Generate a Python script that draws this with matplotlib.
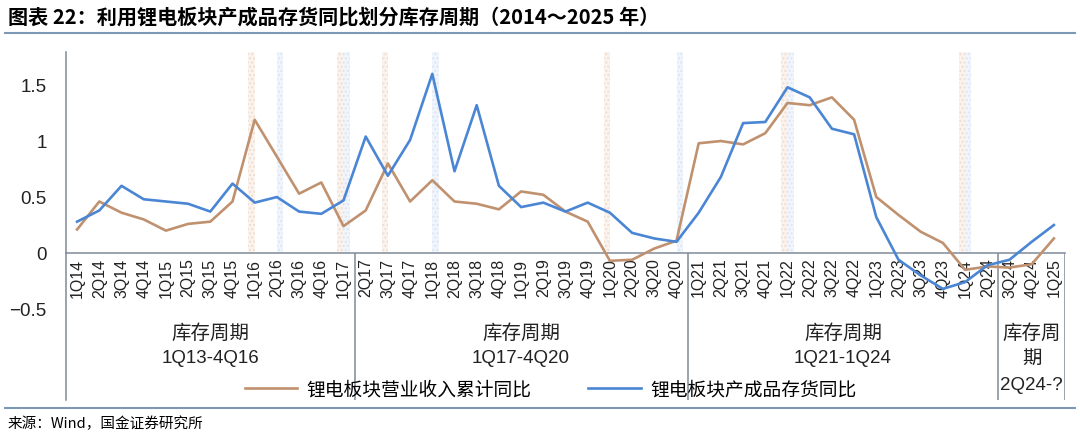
import matplotlib.pyplot as plt
from matplotlib.lines import Line2D

plt.rcParams['font.family'] = ['Liberation Sans', 'Noto Sans CJK SC', 'DejaVu Sans']

quarters = ['1Q14', '2Q14', '3Q14', '4Q14', '1Q15', '2Q15', '3Q15', '4Q15',
            '1Q16', '2Q16', '3Q16', '4Q16', '1Q17', '2Q17', '3Q17', '4Q17',
            '1Q18', '2Q18', '3Q18', '4Q18', '1Q19', '2Q19', '3Q19', '4Q19',
            '1Q20', '2Q20', '3Q20', '4Q20', '1Q21', '2Q21', '3Q21', '4Q21',
            '1Q22', '2Q22', '3Q22', '4Q22', '1Q23', '2Q23', '3Q23', '4Q23',
            '1Q24', '2Q24', '3Q24', '4Q24', '1Q25']

# 锂电板块营业收入累计同比
revenue = [0.21, 0.46, 0.36, 0.30, 0.20, 0.26, 0.28, 0.46,
           1.19, 0.86, 0.53, 0.63, 0.24, 0.38, 0.80, 0.46,
           0.65, 0.46, 0.44, 0.39, 0.55, 0.52, 0.37, 0.28,
           -0.07, -0.06, 0.04, 0.11, 0.98, 1.00, 0.97, 1.07,
           1.34, 1.32, 1.39, 1.19, 0.50, 0.34, 0.19, 0.09,
           -0.15, -0.12, -0.13, -0.10, 0.13]

# 锂电板块产成品存货同比
inventory = [0.28, 0.38, 0.60, 0.48, 0.46, 0.44, 0.37, 0.62,
             0.45, 0.50, 0.37, 0.35, 0.47, 1.04, 0.69, 1.01,
             1.60, 0.73, 1.32, 0.60, 0.41, 0.45, 0.37, 0.45,
             0.36, 0.18, 0.13, 0.10, 0.36, 0.68, 1.16, 1.17,
             1.48, 1.39, 1.11, 1.06, 0.32, -0.06, -0.20, -0.32,
             -0.26, -0.11, -0.06, 0.10, 0.25]

# highlighted quarters (revenue turns / inventory turns)
rev_marks = [8, 12, 14, 24, 32, 40]
inv_marks = [9, 12, 16, 27, 32, 40]

# inventory cycle groups: (start, end, label lines)
groups = [(-0.5, 12.5, ['库存周期', '1Q13-4Q16']),
          (12.5, 27.5, ['库存周期', '1Q17-4Q20']),
          (27.5, 41.5, ['库存周期', '1Q21-1Q24']),
          (41.5, 44.5, ['库存周', '期', '2Q24-?'])]

brown = '#C0916F'
blue = '#4A86D4'
frame = '#7F8A99'
cjk = ['Noto Sans CJK SC', 'DejaVu Sans']

fig = plt.figure(figsize=(10.8, 4.33), dpi=100)
ax = fig.add_axes([66 / 1080, 1 - 400 / 433, 999 / 1080, 348 / 433])

x = list(range(len(quarters)))
ymin, ymax = -1.3125, 1.795

# faint dotted bands marking the turning quarters
for i in rev_marks:
    ax.axvspan(i - 0.28, i, ymin=(0 - ymin) / (ymax - ymin), ymax=1,
               facecolor='#FBF3EE', edgecolor='#F1DDD0', hatch='....', lw=0, zorder=0)
for i in inv_marks:
    ax.axvspan(i, i + 0.28, ymin=(0 - ymin) / (ymax - ymin), ymax=1,
               facecolor='#F1F5FC', edgecolor='#DCE6F6', hatch='....', lw=0, zorder=0)

ax.plot(x, revenue, color=brown, lw=1.9, zorder=3)
ax.plot(x, inventory, color=blue, lw=1.9, zorder=4)

ax.set_xlim(-0.5, 44.5)
ax.set_ylim(ymin, ymax)

ax.spines['top'].set_visible(False)
ax.spines['right'].set_visible(False)
ax.spines['bottom'].set_position(('data', 0))
ax.spines['bottom'].set_color(frame)
ax.spines['left'].set_color(frame)
ax.spines['left'].set_linewidth(1.1)
ax.spines['bottom'].set_linewidth(1.1)

ax.set_yticks([-0.5, 0, 0.5, 1, 1.5])
ax.set_yticklabels(['\u22120.5', '0', '0.5', '1', '1.5'])
ax.tick_params(axis='y', length=0, pad=14, labelsize=13.5, labelcolor='#222222')
ax.set_xticks(x)
ax.set_xticklabels(quarters, rotation=90)
ax.tick_params(axis='x', length=0, pad=4, labelsize=11.5, labelcolor='#222222')

# category group boxes
for start, end, lines in groups:
    ax.vlines(end, ymin, 0, color=frame, lw=1.1, zorder=2)
    ys = [-0.714, -0.9375, -1.18]
    for k, txt in enumerate(lines):
        fam = cjk if any(ord(c) > 127 for c in txt) else ['Liberation Sans']
        ax.text((start + end) / 2, ys[k], txt, ha='center', va='center',
                fontsize=14 if fam == cjk else 13.5, family=fam, color='#222222')

handles = [Line2D([], [], color=brown, lw=1.9),
           Line2D([], [], color=blue, lw=1.9)]
ax.legend(handles, ['锂电板块营业收入累计同比', '锂电板块产成品存货同比'],
          loc='center', bbox_to_anchor=(0.485, 0.03), ncol=2, frameon=False,
          prop={'family': cjk, 'size': 13.5}, handlelength=2.8,
          columnspacing=3.0, handletextpad=0.5)

# title, rules and source
fig.text(8 / 1080, 1 - 17 / 433,
         '图表 22：利用锂电板块产成品存货同比划分库存周期（2014～2025 年）',
         family=cjk, fontsize=14.5, fontweight='bold', va='center')
fig.add_artist(Line2D([5 / 1080, 1075 / 1080], [1 - 33 / 433, 1 - 33 / 433],
                      color='#7C98B4', lw=1.5))
fig.add_artist(Line2D([5 / 1080, 1075 / 1080], [1 - 408 / 433, 1 - 408 / 433],
                      color='#7C98B4', lw=1.5))
fig.text(8 / 1080, 1 - 424 / 433, '来源：Wind，国金证券研究所',
         family=cjk, fontsize=10.5, va='center')

fig.savefig('out.png', dpi=100)
